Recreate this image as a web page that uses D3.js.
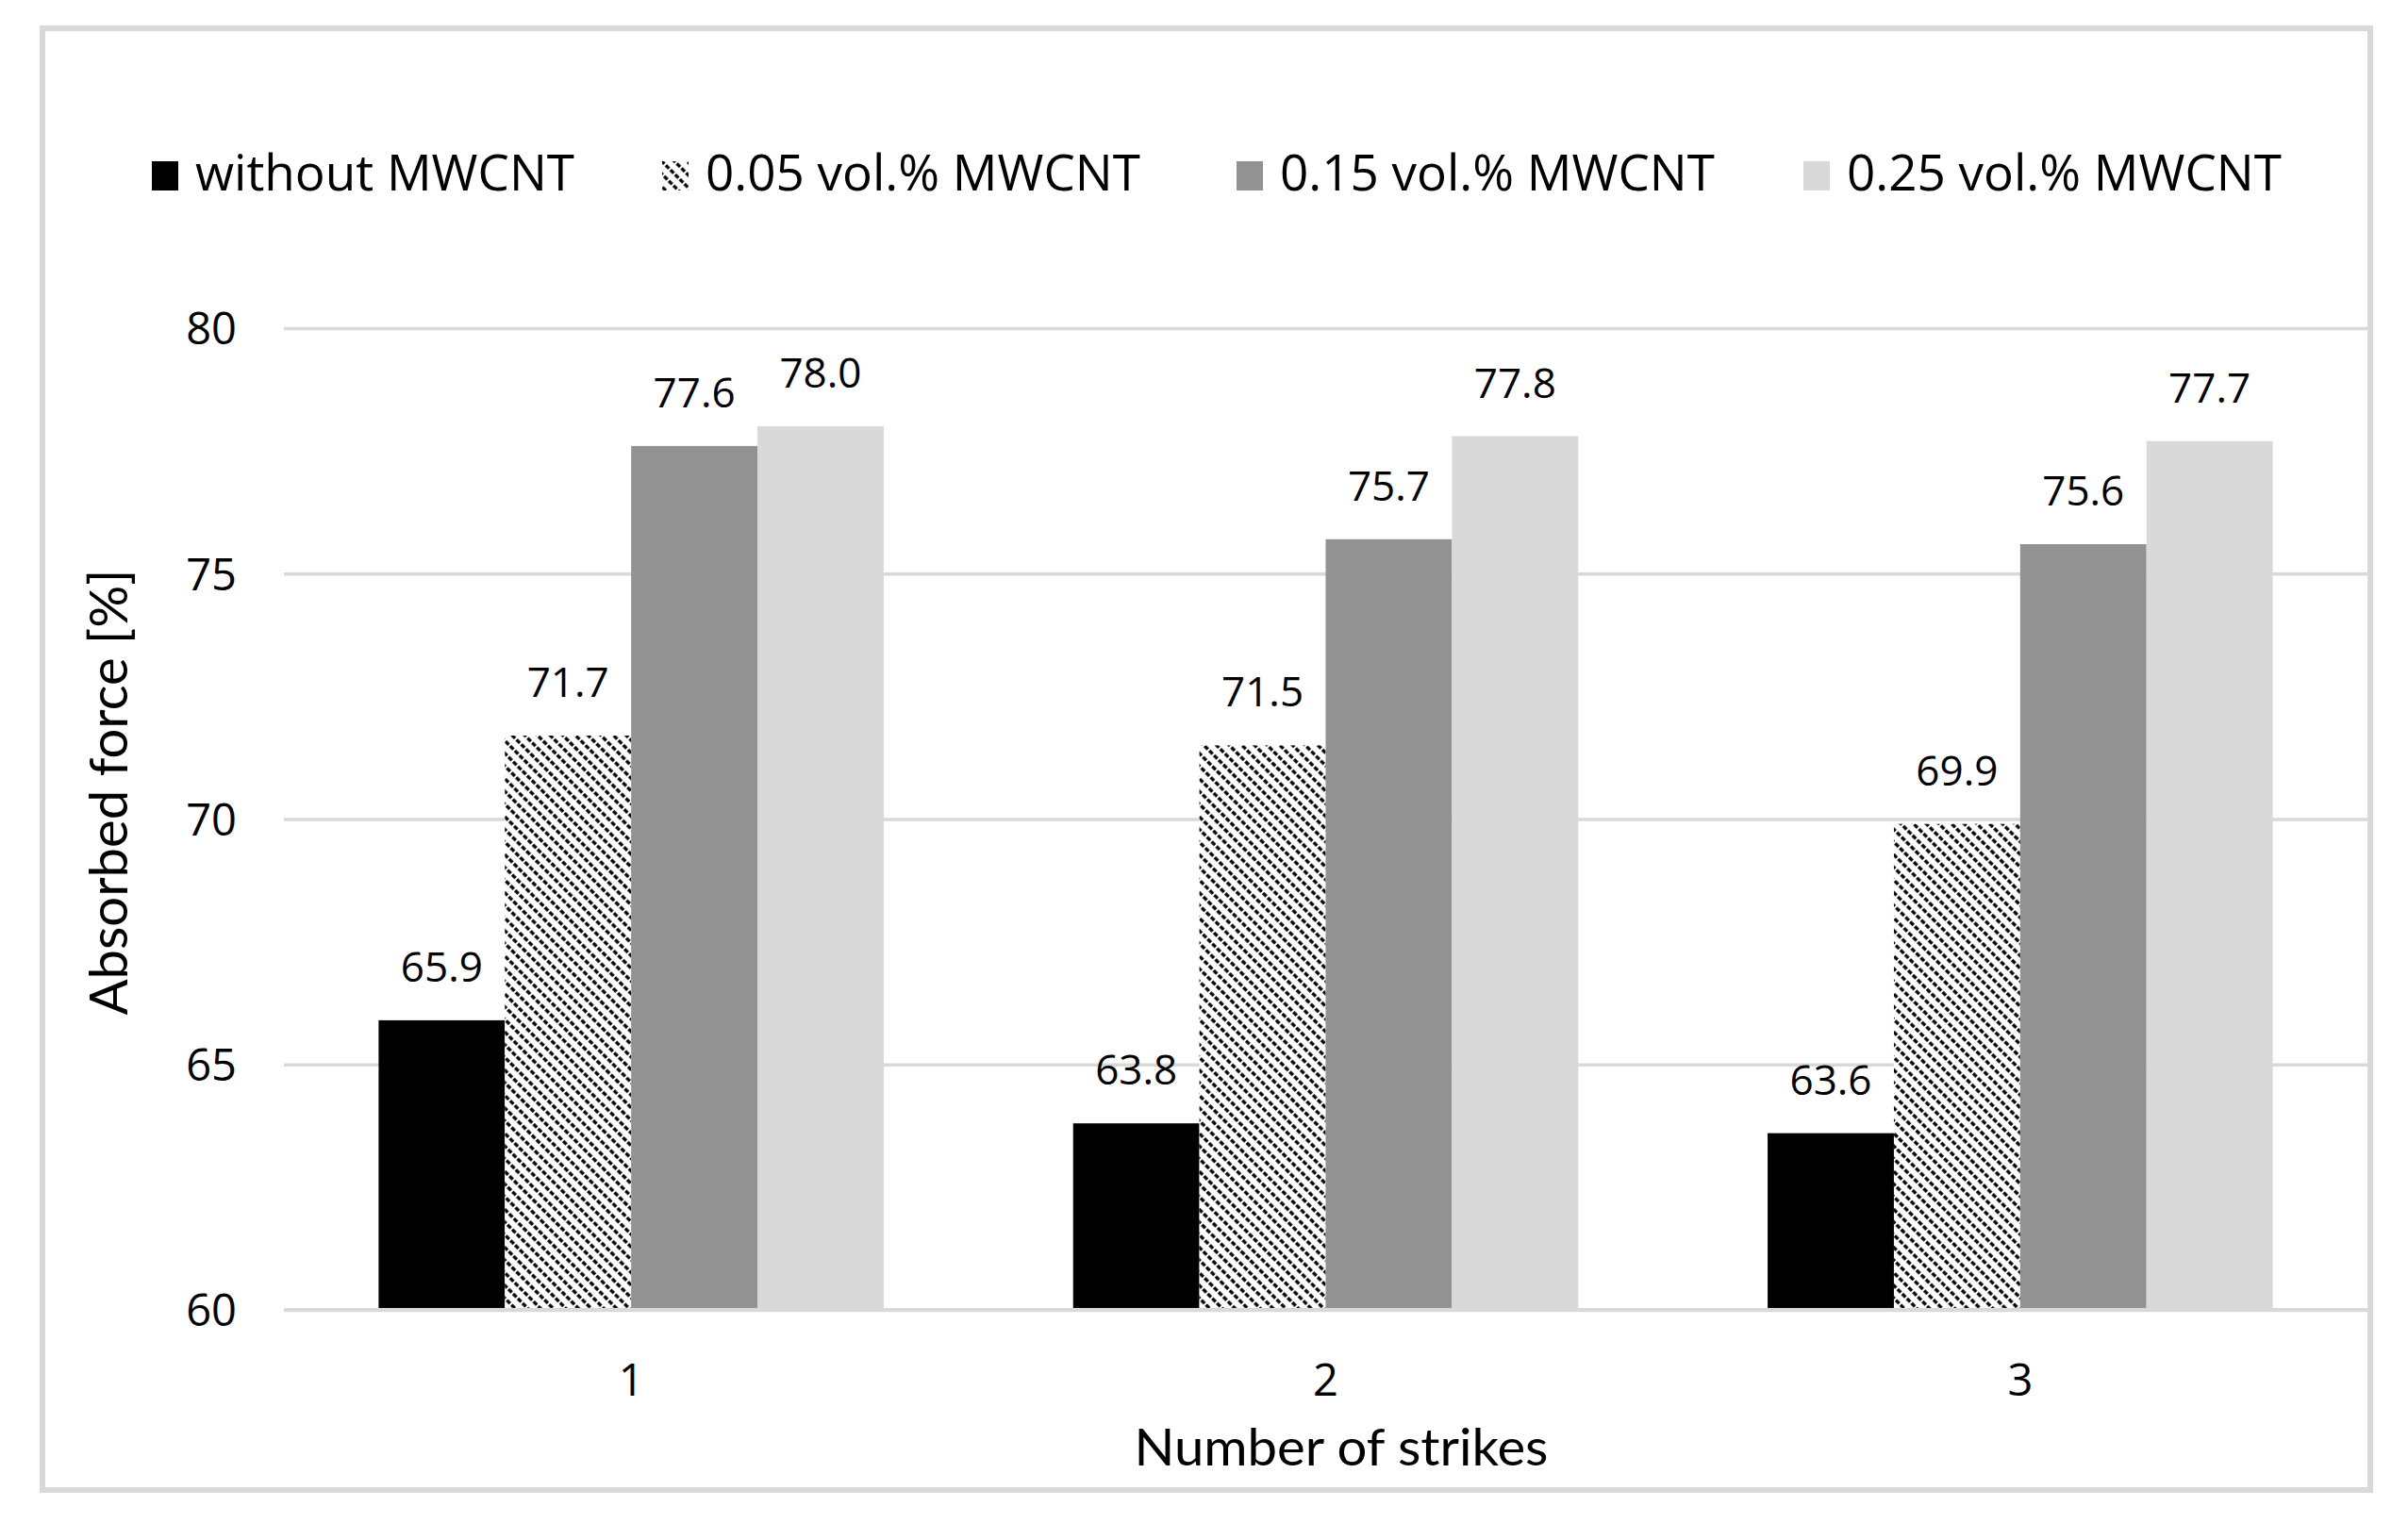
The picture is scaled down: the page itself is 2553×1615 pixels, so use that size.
<!DOCTYPE html>
<html>
<head>
<meta charset="utf-8">
<script src="https://cdn.jsdelivr.net/npm/d3@7"></script>
<style>
  html, body { margin: 0; padding: 0; background: #ffffff; }
  svg { display: block; }
</style>
</head>
<body>
<svg id="chart" width="2553" height="1615"></svg>
<script>
// ---- data ----
const categories = ["1", "2", "3"];
const seriesNames = ["without MWCNT", "0.05 vol.% MWCNT", "0.15 vol.% MWCNT", "0.25 vol.% MWCNT"];
const withoutMWCNT = [65.9, 63.8, 63.6];
const vol005 = [71.7, 71.5, 69.9];
const vol015 = [77.6, 75.7, 75.6];
const vol025 = [78.0, 77.8, 77.7];
const yTicks = [60, 65, 70, 75, 80];
const xTitle = "Number of strikes";
const yTitle = "Absorbed force [%]";

const seriesValues = [withoutMWCNT, vol005, vol015, vol025];
const fills = ["#000000", "url(#hatch)", "#929292", "#d9d9d9"];

const W = 2553, H = 1615;
const margin = { left: 301, right: W - 2510, top: 348, bottom: H - 1389 };
const svg = d3.select("#chart");

svg.append("rect").attr("x", 0).attr("y", 0).attr("width", W).attr("height", H).attr("fill", "#fff");

// hatch pattern (downward diagonal)
const defs = svg.append("defs");
const pat = defs.append("pattern")
  .attr("id", "hatch")
  .attr("patternUnits", "userSpaceOnUse")
  .attr("width", 14).attr("height", 9.5)
  .attr("patternTransform", "rotate(45)");
pat.append("rect").attr("width", 14).attr("height", 9.5).attr("fill", "#fff");
pat.append("line")
  .attr("x1", 0).attr("y1", 4.75).attr("x2", 14).attr("y2", 4.75)
  .attr("stroke", "#000").attr("stroke-width", 3.4)
  .attr("stroke-dasharray", "5 2");

// frame
svg.append("rect")
  .attr("x", 45).attr("y", 30).attr("width", 2468).attr("height", 1550)
  .attr("fill", "none").attr("stroke", "#d9d9d9").attr("stroke-width", 6);

const x0 = d3.scaleBand().domain(categories).range([margin.left, W - margin.right]).paddingInner(0).paddingOuter(0);
const groupInner = x0.bandwidth() * 4 / 5.5;
const x1 = d3.scaleBand().domain(d3.range(seriesNames.length)).range([0, groupInner]).padding(0);
const y = d3.scaleLinear().domain([60, 80]).range([H - margin.bottom, margin.top]);

// gridlines
const yAxis = d3.axisLeft(y).tickValues(yTicks).tickSize(-(W - margin.left - margin.right)).tickPadding(50).tickFormat(d3.format("d"));
const gy = svg.append("g").attr("transform", `translate(${margin.left},0)`).call(yAxis);
gy.select(".domain").remove();
gy.selectAll(".tick line").attr("stroke", "#d9d9d9").attr("stroke-width", 3.5);
gy.selectAll(".tick text")
  .attr("font-family", "'Open Sans', sans-serif")
  .attr("font-size", 47).attr("fill", "#000")
  .attr("dy", "0.36em");

// bars
const groups = svg.append("g").selectAll("g")
  .data(categories)
  .join("g")
  .attr("transform", d => `translate(${x0(d) + (x0.bandwidth() - groupInner) / 2},0)`);

groups.selectAll("rect")
  .data((d, ci) => seriesValues.map((vals, si) => ({ si, v: vals[ci] })))
  .join("rect")
  .attr("x", d => x1(d.si))
  .attr("width", x1.bandwidth())
  .attr("y", d => y(d.v))
  .attr("height", d => y(60) - y(d.v))
  .attr("fill", d => fills[d.si]);

groups.selectAll("text.lbl")
  .data((d, ci) => seriesValues.map((vals, si) => ({ si, v: vals[ci] })))
  .join("text")
  .attr("class", "lbl")
  .attr("x", d => x1(d.si) + x1.bandwidth() / 2)
  .attr("y", d => y(d.v) - 41)
  .attr("text-anchor", "middle")
  .attr("font-family", "'Open Sans', sans-serif")
  .attr("font-size", 44)
  .attr("fill", "#000")
  .text(d => d3.format(".1f")(d.v));

// x axis baseline
svg.append("line")
  .attr("x1", margin.left).attr("x2", W - margin.right)
  .attr("y1", y(60)).attr("y2", y(60))
  .attr("stroke", "#d9d9d9").attr("stroke-width", 4);

// x tick labels
const xAxis = d3.axisBottom(x0).tickSize(0).tickPadding(0);
const gx = svg.append("g").attr("transform", `translate(0,${y(60)})`).call(xAxis);
gx.select(".domain").remove();
gx.selectAll(".tick text")
  .attr("font-family", "'Open Sans', sans-serif")
  .attr("font-size", 47).attr("fill", "#000")
  .attr("y", 91).attr("dy", 0);

// axis titles
svg.append("text")
  .attr("x", 1422).attr("y", 1554)
  .attr("text-anchor", "middle")
  .attr("font-family", "Lato, 'Open Sans', sans-serif")
  .attr("font-size", 55)
  .attr("textLength", 439).attr("lengthAdjust", "spacingAndGlyphs")
  .attr("fill", "#000")
  .text(xTitle);

svg.append("text")
  .attr("transform", "translate(135,840) rotate(-90)")
  .attr("text-anchor", "middle")
  .attr("font-family", "Lato, 'Open Sans', sans-serif")
  .attr("font-size", 56)
  .attr("textLength", 473).attr("lengthAdjust", "spacingAndGlyphs")
  .attr("fill", "#000")
  .text(yTitle);

// legend
const legendTextX = [207, 748, 1357, 1958];
const legendBaseline = 202;
const lg = svg.append("g").selectAll("g").data(seriesNames).join("g");
lg.append("rect")
  .attr("x", (d, i) => legendTextX[i] - 46)
  .attr("y", legendBaseline - 31)
  .attr("width", 28).attr("height", 31)
  .attr("fill", (d, i) => fills[i]);
lg.append("text")
  .attr("x", (d, i) => legendTextX[i])
  .attr("y", legendBaseline)
  .attr("font-family", "'Open Sans', sans-serif")
  .attr("font-size", 53)
  .attr("fill", "#000")
  .text(d => d);
</script>
</body>
</html>
